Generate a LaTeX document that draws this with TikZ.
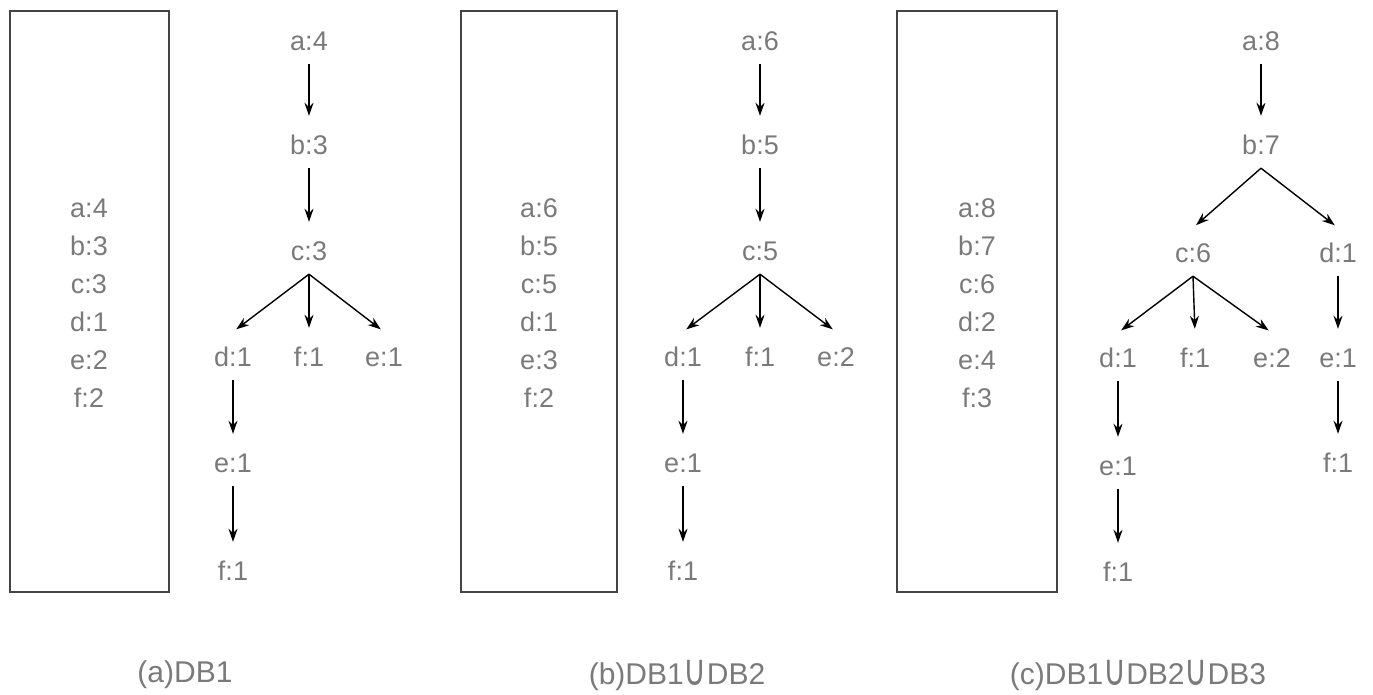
\documentclass[tikz,border=0pt]{standalone}
\usepackage{fontspec}
\setmainfont{Liberation Sans}
\newfontfamily\djv{DejaVu Sans}
\usetikzlibrary{arrows.meta}
\definecolor{txt}{HTML}{7A7A7A}
\definecolor{boxc}{HTML}{444444}
\newcommand{\uni}{\raisebox{-1pt}{\scalebox{1.05}[1.45]{\djv\char"222A}}}
\begin{document}
\begin{tikzpicture}[x=1pt,y=-1pt,
  lbl/.style={text=txt,font=\fontsize{27}{30}\selectfont,text height=20pt,text depth=0pt,inner xsep=2pt,inner ysep=14pt},
  lst/.style={text=txt,font=\fontsize{27}{38}\selectfont,align=center,inner sep=0pt},
  dbbox/.style={draw=boxc,line width=1.6pt},
  arr/.style={-{Stealth[length=13pt,width=9pt]},line width=1.4pt,black,shorten >=4pt},
  captxt/.style={text=txt,font=\fontsize{30}{32}\selectfont,inner sep=0pt}]
\useasboundingbox (0,0) rectangle (1373,694);
% boxes
\node[dbbox,minimum width=159pt,minimum height=581pt,inner sep=0pt] (box1) at (89.5,301.5) {};
\node[dbbox,minimum width=156pt,minimum height=581pt,inner sep=0pt] (box2) at (539,301.5) {};
\node[dbbox,minimum width=160pt,minimum height=581pt,inner sep=0pt] (box3) at (977,301.5) {};
\node[lst] (l1) at (89,303) {a:4\\b:3\\c:3\\d:1\\e:2\\f:2};
\node[lst] (l2) at (539,303) {a:6\\b:5\\c:5\\d:1\\e:3\\f:2};
\node[lst] (l3) at (977,303) {a:8\\b:7\\c:6\\d:2\\e:4\\f:3};
% tree 1
\node[lbl] (a1) at (309,40) {a:4};
\node[lbl] (b1) at (309,144) {b:3};
\node[lbl] (c1) at (309,250) {c:3};
\node[lbl] (d1) at (233,356) {d:1};
\node[lbl] (f1) at (309,356) {f:1};
\node[lbl] (e1) at (384,356) {e:1};
\node[lbl] (e1b) at (233,462) {e:1};
\node[lbl] (f1b) at (233,570) {f:1};
\draw[arr] (a1) -- (b1);
\draw[arr] (b1) -- (c1);
\draw[arr] (c1.south) -- (d1.north);
\draw[arr] (c1.south) -- (f1.north);
\draw[arr] (c1.south) -- (e1.north);
\draw[arr] (d1) -- (e1b);
\draw[arr] (e1b) -- (f1b);
% tree 2
\node[lbl] (a2) at (760,40) {a:6};
\node[lbl] (b2) at (760,144) {b:5};
\node[lbl] (c2) at (760,250) {c:5};
\node[lbl] (d2) at (683,356) {d:1};
\node[lbl] (f2) at (760,356) {f:1};
\node[lbl] (e2) at (836,356) {e:2};
\node[lbl] (e2b) at (683,462) {e:1};
\node[lbl] (f2b) at (683,570) {f:1};
\draw[arr] (a2) -- (b2);
\draw[arr] (b2) -- (c2);
\draw[arr] (c2.south) -- (d2.north);
\draw[arr] (c2.south) -- (f2.north);
\draw[arr] (c2.south) -- (e2.north);
\draw[arr] (d2) -- (e2b);
\draw[arr] (e2b) -- (f2b);
% tree 3
\node[lbl] (a3) at (1261,40) {a:8};
\node[lbl] (b3) at (1261,144) {b:7};
\node[lbl] (c3) at (1193,252) {c:6};
\node[lbl] (d3r) at (1338,252) {d:1};
\node[lbl] (d3) at (1118,357) {d:1};
\node[lbl] (f3) at (1195,357) {f:1};
\node[lbl] (e3) at (1272,357) {e:2};
\node[lbl] (e3r) at (1338,357) {e:1};
\node[lbl] (e3b) at (1118,465) {e:1};
\node[lbl] (f3b) at (1118,571) {f:1};
\node[lbl] (f3r) at (1338,462) {f:1};
\draw[arr] (a3) -- (b3);
\draw[arr] (b3.south) -- (c3.north);
\draw[arr] (b3.south) -- (d3r.north);
\draw[arr] (c3.south) -- (d3.north);
\draw[arr] (c3.south) -- (f3.north);
\draw[arr] (c3.south) -- (e3.north);
\draw[arr] (d3r) -- (e3r);
\draw[arr] (e3r) -- (f3r);
\draw[arr] (d3) -- (e3b);
\draw[arr] (e3b) -- (f3b);
% captions
\node[captxt] (ca) at (185,675) {(a)DB1};
\node[captxt] (cb) at (677,675) {(b)DB1\uni DB2};
\node[captxt] (cc) at (1138,675) {(c)DB1\uni DB2\uni DB3};
\end{tikzpicture}
\end{document}
